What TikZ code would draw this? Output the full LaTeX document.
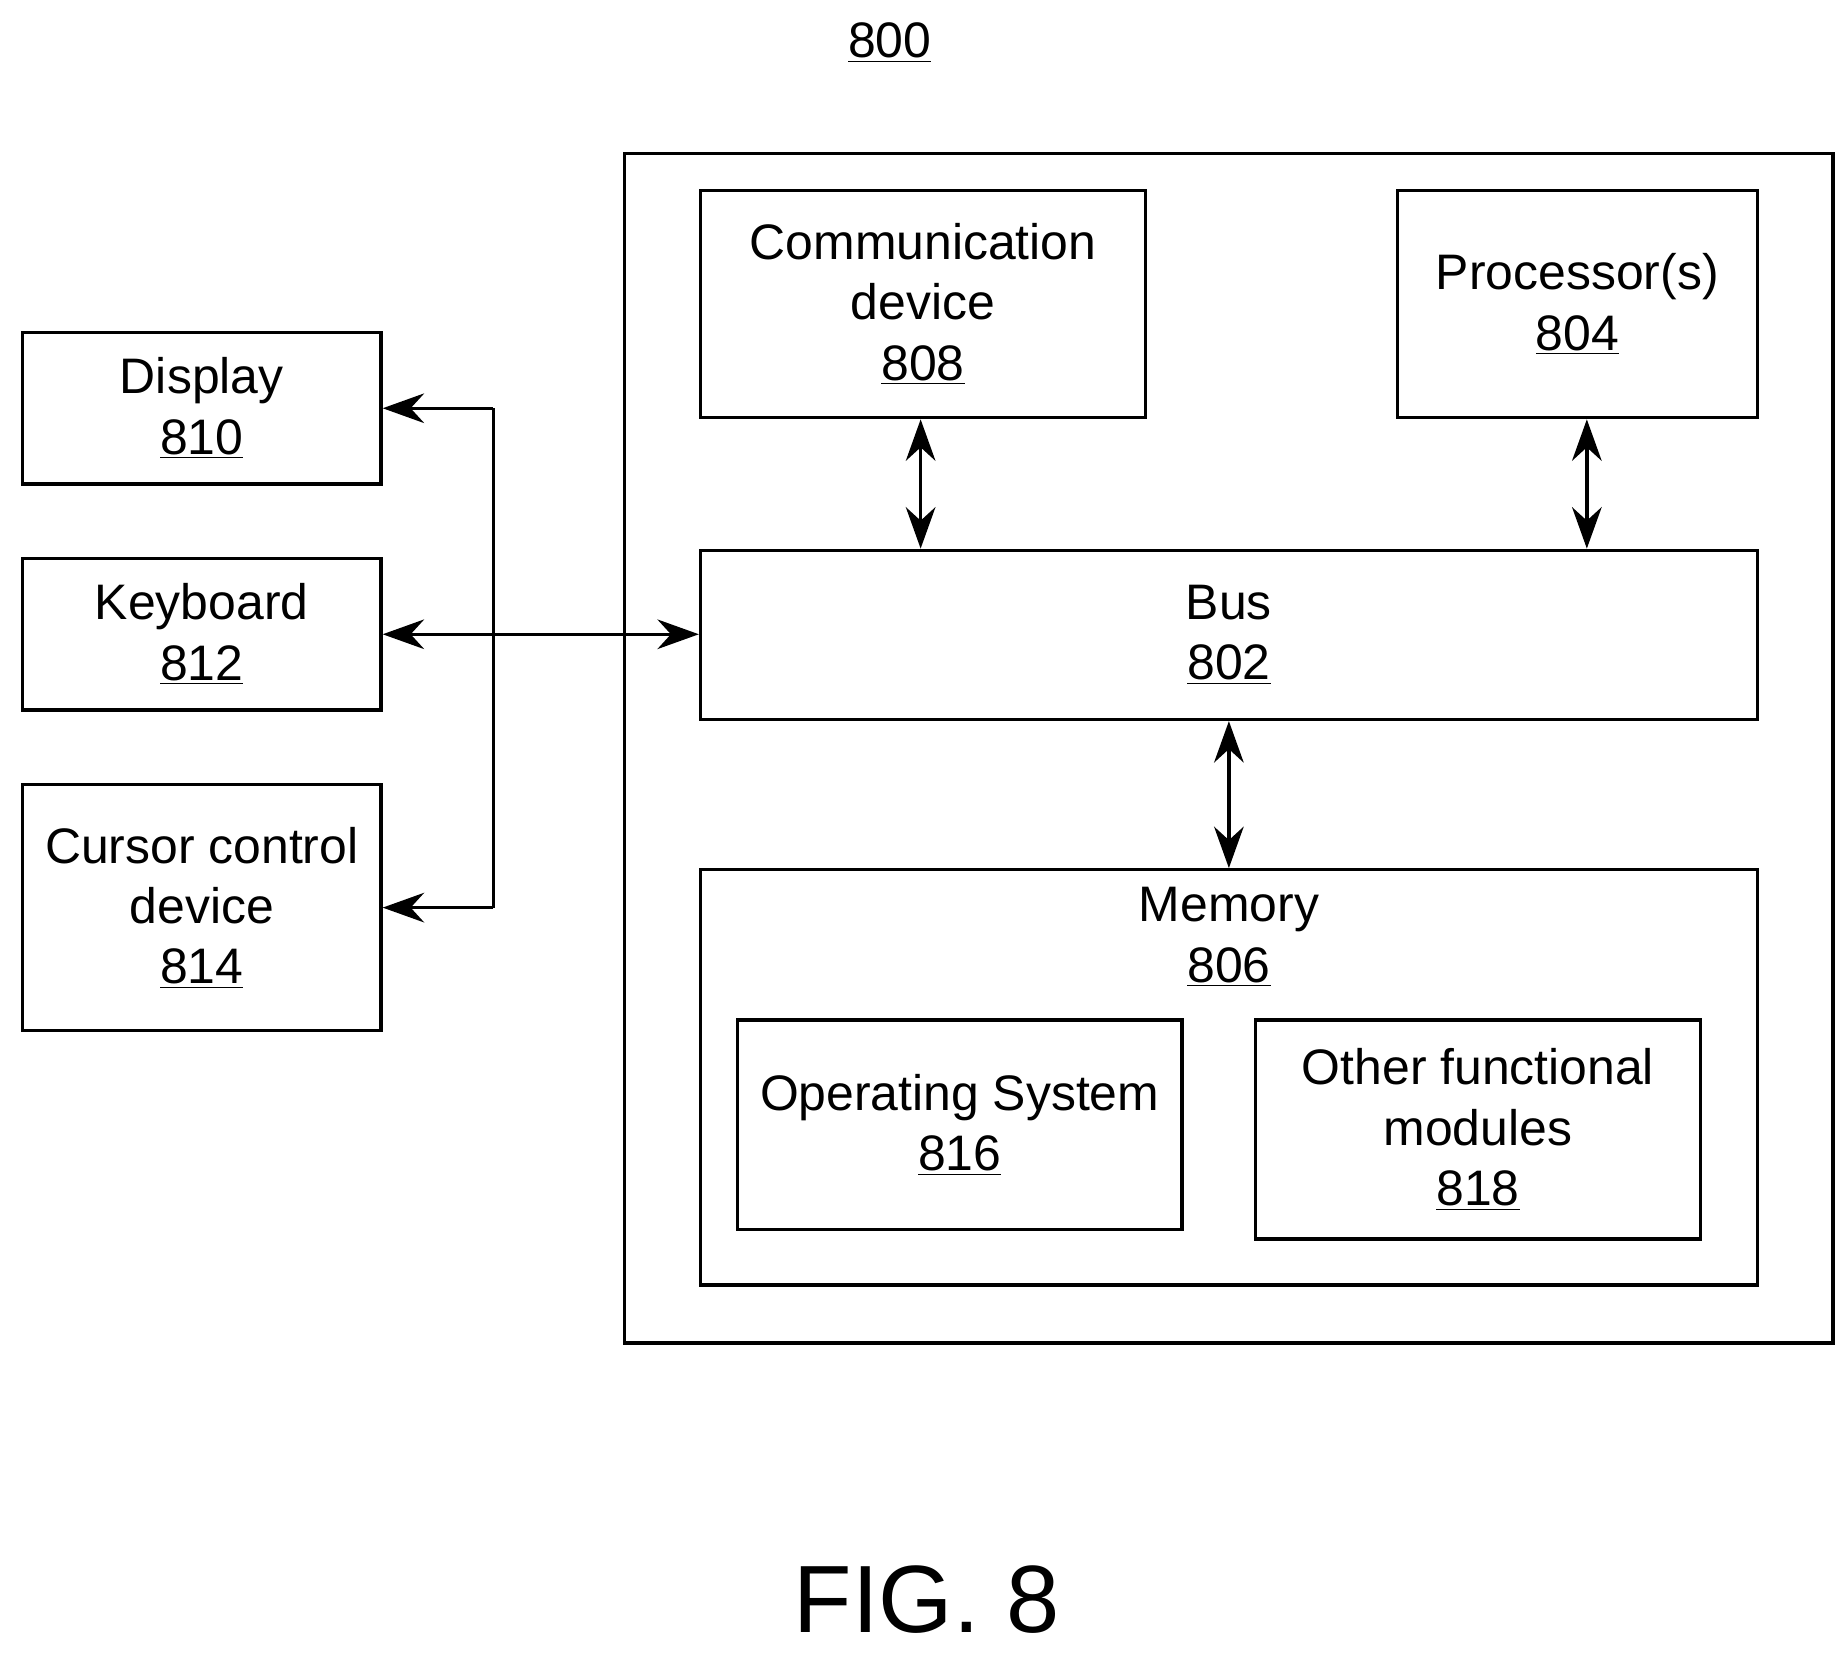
\documentclass[tikz,border=0pt]{standalone}
\usepackage{fontspec}
\setmainfont{Liberation Sans}
\usetikzlibrary{arrows.meta}
\begin{document}
\begin{tikzpicture}[x=0.02cm,y=-0.02cm,
  box/.style={draw,line width=1.6pt,inner sep=0,align=center,font=\fontsize{24}{29}\selectfont},
  lbl/.style={inner sep=0,align=center,font=\fontsize{24}{29}\selectfont},
  arr/.style={line width=1.6pt,{Stealth[length=0.7cm,width=0.5cm]}-{Stealth[length=0.7cm,width=0.5cm]}},
  arrs/.style={line width=1.6pt,-{Stealth[length=0.7cm,width=0.5cm]}}]
\useasboundingbox (0,0) rectangle (1560,1402);
\node[lbl] (t800) at (752,36) {\underline{800}};
\node[lbl,font=\fontsize{46}{54}\selectfont] (fig) at (783,1352) {FIG. 8};
\node[box,minimum width=1021*0.02cm,minimum height=1005*0.02cm] (outer) at (1038.5,632.5) {};
\node[box,minimum width=376*0.02cm,minimum height=192*0.02cm] (comm) at (780,257) {Communication\\device\\\underline{808}};
\node[box,minimum width=304*0.02cm,minimum height=192*0.02cm] (proc) at (1333,257) {Processor(s)\\\underline{804}};
\node[box,minimum width=893*0.02cm,minimum height=143*0.02cm] (bus) at (1038.5,536.5) {Bus\\\underline{802}};
\node[box,minimum width=893*0.02cm,minimum height=351*0.02cm] (mem) at (1038.5,910.5) {};
\node[lbl] (meml) at (1038.5,792) {Memory\\\underline{806}};
\node[box,minimum width=376*0.02cm,minimum height=177*0.02cm] (os) at (811,950.5) {Operating System\\\underline{816}};
\node[box,minimum width=376*0.02cm,minimum height=185*0.02cm] (oth) at (1249,954.5) {Other functional\\modules\\\underline{818}};
\node[box,minimum width=303*0.02cm,minimum height=128*0.02cm] (disp) at (170.5,345) {Display\\\underline{810}};
\node[box,minimum width=303*0.02cm,minimum height=128*0.02cm] (kb) at (170.5,536) {Keyboard\\\underline{812}};
\node[box,minimum width=303*0.02cm,minimum height=208*0.02cm] (cur) at (170.5,767) {Cursor control\\device\\\underline{814}};
\draw[arr] (comm.south -| 778,0) -- (bus.north -| 778,0);
\draw[arr] (proc.south -| 1341,0) -- (bus.north -| 1341,0);
\draw[arr] (bus.south) -- (mem.north);
\draw[arr] (kb.east) -- (bus.west |- kb.east);
\coordinate (jt) at (417,345);
\coordinate (jb) at (417,767);
\draw[line width=1.6pt] (jt) -- (jb);
\draw[arrs] (jt) -- (disp.east);
\draw[arrs] (jb) -- (cur.east);
\end{tikzpicture}
\end{document}
